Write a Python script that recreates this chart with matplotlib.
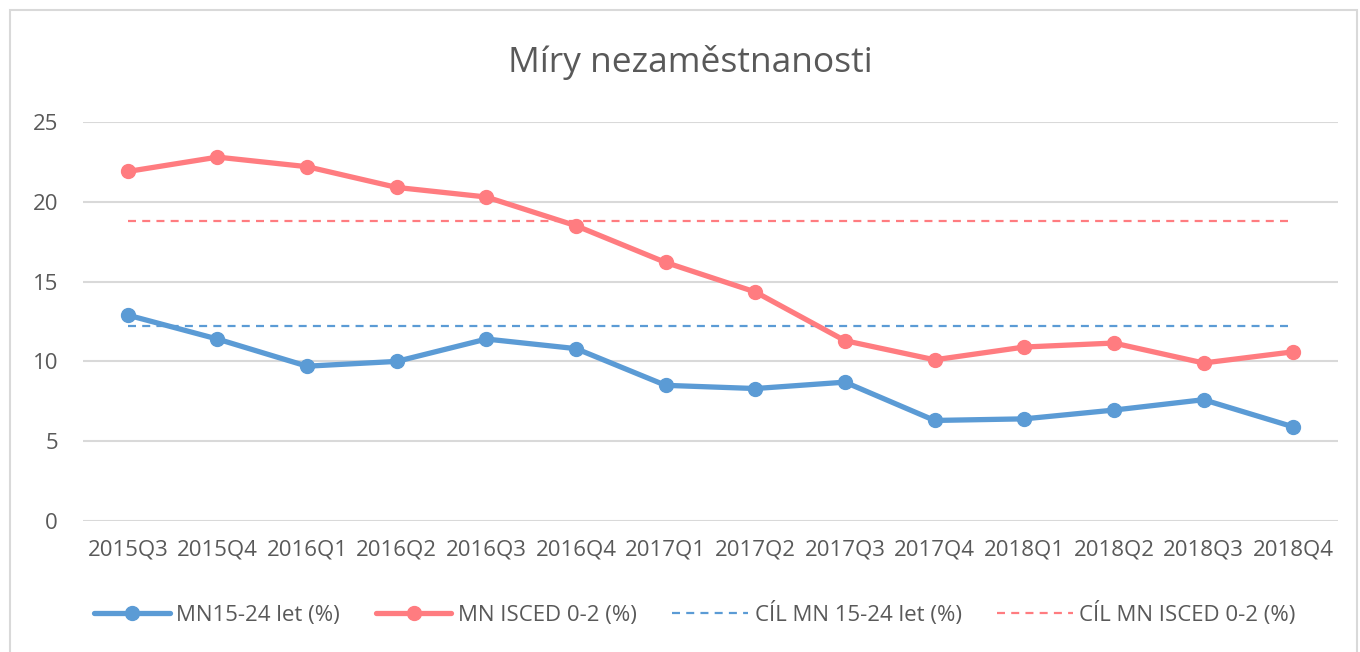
import matplotlib
matplotlib.use("Agg")
import matplotlib.pyplot as plt
from matplotlib.patches import Rectangle

plt.rcParams['font.family'] = ['Open Sans', 'DejaVu Sans']

quarters = ["2015Q3", "2015Q4", "2016Q1", "2016Q2", "2016Q3", "2016Q4", "2017Q1",
            "2017Q2", "2017Q3", "2017Q4", "2018Q1", "2018Q2", "2018Q3", "2018Q4"]
mn_15_24 = [12.9, 11.4, 9.7, 10.0, 11.4, 10.8, 8.5, 8.3, 8.7, 6.3, 6.4, 6.95, 7.6, 5.9]
mn_isced = [21.9, 22.8, 22.2, 20.9, 20.3, 18.5, 16.2, 14.35, 11.3, 10.1, 10.9, 11.15, 9.9, 10.6]
target_15_24 = [12.2] * len(quarters)
target_isced = [18.8] * len(quarters)
yticks = [0, 5, 10, 15, 20, 25]

blue = "#5B9BD5"
red = "#FF7C80"
txt = "#595959"

fig = plt.figure(figsize=(13.6, 6.52), dpi=100)
W, H = 1360, 652
fig.patches.append(Rectangle((10 / W, -0.01), 1347 / W, (H - 10) / H + 0.01,
                             transform=fig.transFigure, fill=False,
                             edgecolor="#D9D9D9", linewidth=1.5))

ax = fig.add_axes([83 / W, 1 - 521 / H, (1338 - 83) / W, (521 - 122) / H])
x = list(range(len(quarters)))

dash = (0, (3.6, 2.8))
ax.plot(x, target_15_24, color=blue, linestyle=dash, linewidth=1.6,
        label="CÍL MN 15-24 let (%)", zorder=2)
ax.plot(x, target_isced, color=red, linestyle=dash, linewidth=1.6,
        label="CÍL MN ISCED 0-2 (%)", zorder=2)
ax.plot(x, mn_15_24, color=blue, linewidth=3.8, marker="o", markersize=10,
        label="MN15-24 let (%)", zorder=3, solid_capstyle="round")
ax.plot(x, mn_isced, color=red, linewidth=3.8, marker="o", markersize=10,
        label="MN ISCED 0-2 (%)", zorder=3, solid_capstyle="round")

ax.set_xlim(-0.5, len(quarters) - 0.5)
ax.set_ylim(0, 25)
ax.set_yticks(yticks)
ax.set_xticks(x)
ax.set_xticklabels(quarters)
ax.grid(axis="y", color="#D9D9D9", linewidth=1.5)
ax.set_axisbelow(True)
for s in ax.spines.values():
    s.set_visible(False)
ax.tick_params(axis="both", length=0, colors=txt, labelsize=16)
ax.tick_params(axis="y", pad=18)
ax.tick_params(axis="x", pad=13)

fig.text(690 / W, 1 - 63 / H, "Míry nezaměstnanosti", ha="center", va="center",
         fontsize=25.5, color=txt)

handles, labels = ax.get_legend_handles_labels()
order = [2, 3, 0, 1]
leg = fig.legend([handles[i] for i in order], [labels[i] for i in order],
                 loc="center", bbox_to_anchor=(695 / W, 1 - 614 / H), ncol=4,
                 frameon=False, fontsize=16, handlelength=3.4, columnspacing=1.6,
                 handletextpad=0.3, labelcolor=txt)

fig.savefig("out.png", dpi=100, facecolor="white")
